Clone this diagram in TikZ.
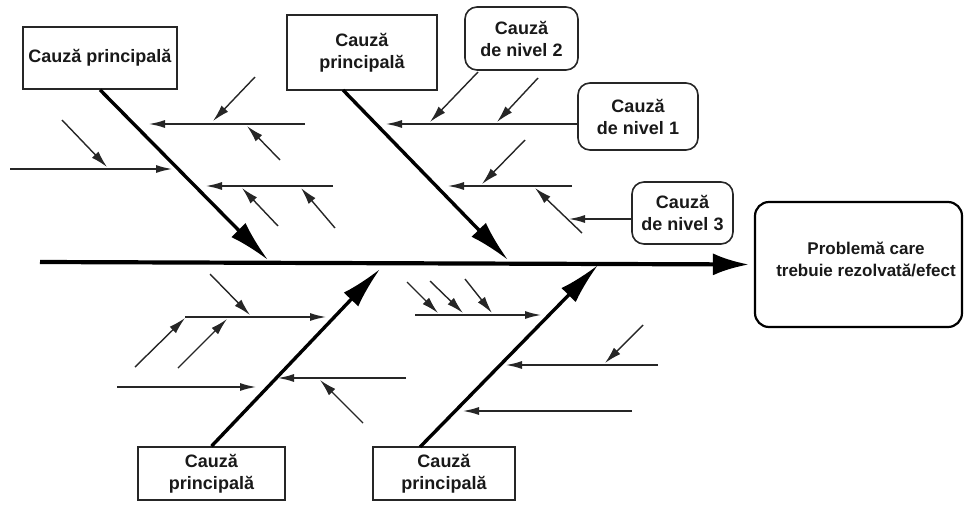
\documentclass[tikz,border=0pt]{standalone}
\usepackage{fontspec}
\setmainfont{Liberation Sans}
\usetikzlibrary{arrows.meta}
\begin{document}
\begin{tikzpicture}[x=1pt,y=-1pt,
  cbox/.style={draw=black!85, line width=1.6pt, fill=white, align=center,
    font=\fontsize{18}{22}\selectfont\bfseries, text=black!90, inner sep=0pt},
  rbox/.style={cbox, rounded corners=12pt},
  efftxt/.style={align=center, font=\fontsize{17}{22}\selectfont\bfseries, text=black!90, inner sep=0pt},
  spine/.style={line width=4.2pt, -{Latex[length=36pt,width=22pt]}},
  bone/.style={line width=3.4pt, -{Latex[length=42pt,width=20pt]}},
  branch/.style={line width=2.2pt, draw=black!85, -{Latex[length=17pt,width=8pt]}},
  sub/.style={line width=1.4pt, draw=black!85, -{Latex[length=17pt,width=9pt]}}]
\useasboundingbox (0,0) rectangle (964,504);

% boxes
\node[cbox, minimum width=154pt, minimum height=62pt] (tl) at (100,58) {Cauză principală};
\node[cbox, minimum width=150pt, minimum height=75pt] (tm) at (362,52.5) {Cauză\\principală};
\node[rbox, minimum width=113pt, minimum height=63pt] (n2) at (521.5,38.5) {Cauză\\de nivel 2};
\node[rbox, minimum width=120pt, minimum height=67pt] (n1) at (638,116.5) {Cauză\\de nivel 1};
\node[rbox, minimum width=101pt, minimum height=62pt] (n3) at (682.5,213) {Cauză\\de nivel 3};
\node[cbox, minimum width=147pt, minimum height=53pt] (bb1) at (211.5,473.5) {Cauză\\principală};
\node[cbox, minimum width=142pt, minimum height=53pt] (bb2) at (444,473.5) {Cauză\\principală};
\node[draw=black, line width=2.2pt, rounded corners=14pt, minimum width=207pt, minimum height=125pt] (eff) at (858.5,264.5) {};
\node[efftxt] (efft) at (866,259) {Problemă care\\trebuie rezolvată/efect};

% coordinates
\coordinate (sp0) at (40,262);
\coordinate (b1t) at (268,260);
\coordinate (b2s) at (343,90);
\coordinate (b2t) at (508,260);
\coordinate (b3t) at (380,269);
\coordinate (b4s) at (420,447);
\coordinate (b4t) at (598,265);

\coordinate (aS) at (305,124); \coordinate (aE) at (148,124);
\coordinate (bS) at (10,169);  \coordinate (bE) at (173,169);
\coordinate (cS) at (333,186); \coordinate (cE) at (205,186);
\coordinate (dE) at (385,124);
\coordinate (eS) at (572,186); \coordinate (eE) at (447,186);
\coordinate (fS) at (185,317); \coordinate (fE) at (327,317);
\coordinate (gS) at (117,387); \coordinate (gE) at (257,387);
\coordinate (hS) at (406,378); \coordinate (hE) at (277,378);
\coordinate (iS) at (415,315); \coordinate (iE) at (542,315);
\coordinate (jS) at (658,365); \coordinate (jE) at (505,365);
\coordinate (kS) at (632,411); \coordinate (kE) at (462,411);
\coordinate (n3E) at (568,219);

\coordinate (a1S) at (255,77);  \coordinate (a1E) at (213,121);
\coordinate (a2S) at (280,160); \coordinate (a2E) at (247,126);
\coordinate (b1S) at (62,120);  \coordinate (b1E) at (107,167);
\coordinate (c1S) at (278,226); \coordinate (c1E) at (242,188);
\coordinate (c2S) at (335,228); \coordinate (c2E) at (301,188);
\coordinate (d1S) at (478,72);  \coordinate (d1E) at (430,122);
\coordinate (d2S) at (538,78);  \coordinate (d2E) at (497,122);
\coordinate (e1S) at (525,140); \coordinate (e1E) at (482,184);
\coordinate (e2S) at (582,233); \coordinate (e2E) at (535,188);
\coordinate (f1S) at (210,274); \coordinate (f1E) at (250,315);
\coordinate (f2S) at (135,367); \coordinate (f2E) at (185,318);
\coordinate (f3S) at (178,368); \coordinate (f3E) at (227,319);
\coordinate (h1S) at (363,423); \coordinate (h1E) at (320,380);
\coordinate (i1S) at (407,282); \coordinate (i1E) at (438,313);
\coordinate (i2S) at (430,281); \coordinate (i2E) at (463,313);
\coordinate (i3S) at (465,279); \coordinate (i3E) at (492,313);
\coordinate (j1S) at (643,325); \coordinate (j1E) at (605,363);

% spine and bones
\draw[spine, shorten >=5pt] (sp0) -- (eff.west);
\draw[bone] (tl.south) -- (b1t);
\draw[bone] (b2s) -- (b2t);
\draw[bone] (bb1.north) -- (b3t);
\draw[bone] (b4s) -- (b4t);

% branches
\draw[branch] (aS) -- (aE);
\draw[branch] (bS) -- (bE);
\draw[branch] (cS) -- (cE);
\draw[branch] (n1.west |- dE) -- (dE);
\draw[branch] (eS) -- (eE);
\draw[branch] (fS) -- (fE);
\draw[branch] (gS) -- (gE);
\draw[branch] (hS) -- (hE);
\draw[branch] (iS) -- (iE);
\draw[branch] (jS) -- (jE);
\draw[branch] (kS) -- (kE);
\draw[branch] (n3.west |- n3E) -- (n3E);

% sub-causes
\foreach \s in {a1,a2,b1,c1,c2,d1,d2,e1,e2,f1,f2,f3,h1,i1,i2,i3,j1}
  \draw[sub] (\s S) -- (\s E);
\end{tikzpicture}
\end{document}
